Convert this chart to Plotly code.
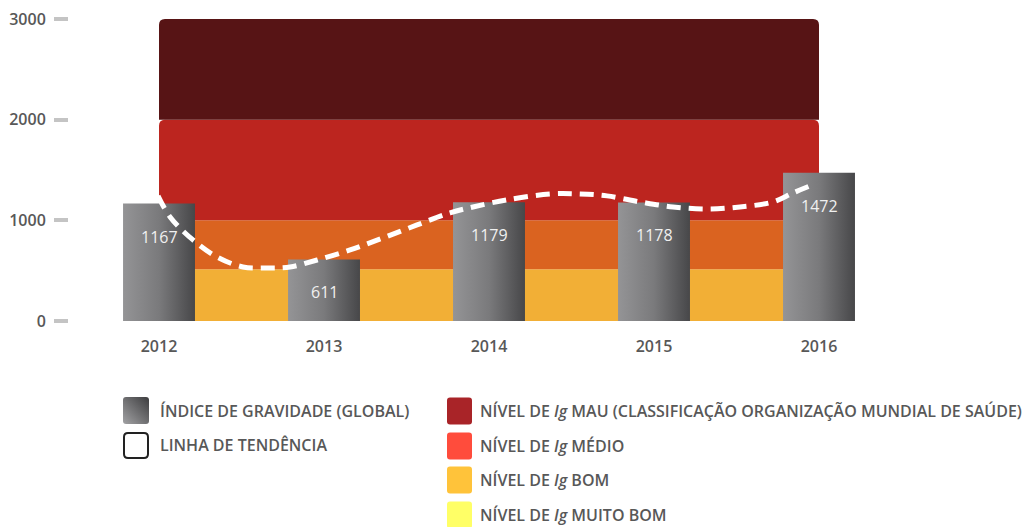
import base64
import plotly.graph_objects as go

# ---------------- data ----------------
years = [2012, 2013, 2014, 2015, 2016]
gravity_index = [1167, 611, 1179, 1178, 1472]

# trend line (year, value)
trend_x = [2011.994, 2012.067, 2012.206, 2012.352, 2012.509, 2012.655, 2012.794,
           2012.958, 2013.158, 2013.358, 2013.564, 2013.764, 2013.903, 2014.109,
           2014.370, 2014.552, 2014.715, 2014.915, 2015.115, 2015.321, 2015.521,
           2015.721, 2015.842, 2015.976]
trend_y = [1243, 1034, 805, 636, 537, 527, 537,
           606, 706, 825, 954, 1074, 1133, 1203,
           1262, 1262, 1243, 1183, 1133, 1113, 1133,
           1183, 1272, 1362]

# Ig level bands (lower bound, upper bound)
level_lower = [0, 515, 1000, 2000]
level_upper = [515, 1000, 2000, 3000]
level_colors = ["#F2AF36", "#DA6320", "#BC251F", "#571415"]
level_rounded = [False, False, True, True]

y_ticks = [0, 1000, 2000, 3000]

legend_left = ["ÍNDICE DE GRAVIDADE (GLOBAL)", "LINHA DE TENDÊNCIA"]
legend_right = ["NÍVEL DE <i>Ig</i> MAU (CLASSIFICAÇÃO ORGANIZAÇÃO MUNDIAL DE SAÚDE)",
                "NÍVEL DE <i>Ig</i> MÉDIO",
                "NÍVEL DE <i>Ig</i> BOM",
                "NÍVEL DE <i>Ig</i> MUITO BOM"]
legend_right_colors = ["#A92428", "#FF4C3C", "#FFC33A", "#FFFF66"]

# ---------------- styling ----------------
W, H = 1028, 527
ML, MR, MT, MB = 69, 128, 19, 206
X0, X1 = 2011.4545, 2016.4909
BAR_W = 0.436
FONT = "Open Sans"
TXT = "#585858"

fig = go.Figure()

# level bands
rx, ry = 0.036, 60
band_x0, band_x1 = years[0], years[-1]
for lo, hi, col, rnd in zip(level_lower, level_upper, level_colors, level_rounded):
    if rnd:
        path = (f"M {band_x0},{lo} L {band_x0},{hi-ry} Q {band_x0},{hi} {band_x0+rx},{hi} "
                f"L {band_x1-rx},{hi} Q {band_x1},{hi} {band_x1},{hi-ry} L {band_x1},{lo} Z")
        fig.add_shape(type="path", path=path, xref="x", yref="y", fillcolor=col,
                      line=dict(width=0), layer="below")
    else:
        fig.add_shape(type="rect", x0=band_x0, x1=band_x1, y0=lo, y1=hi, xref="x", yref="y",
                      fillcolor=col, line=dict(width=0), layer="below")

# bars with gradient
for yr, v in zip(years, gravity_index):
    fig.add_trace(go.Scatter(
        x=[yr - BAR_W / 2, yr - BAR_W / 2, yr + BAR_W / 2, yr + BAR_W / 2, yr - BAR_W / 2],
        y=[0, v, v, 0, 0], mode="lines", line=dict(width=0), fill="toself",
        fillgradient=dict(type="horizontal",
                          colorscale=[[0, "#949496"], [0.5, "#7a7a7c"], [1, "#474749"]]),
        hoverinfo="skip", showlegend=False))

# trend line
fig.add_trace(go.Scatter(x=trend_x, y=trend_y, mode="lines",
                         line=dict(color="white", width=5, dash="14px,8px", shape="spline"),
                         hoverinfo="skip", showlegend=False))

# value labels
for yr, v in zip(years, gravity_index):
    fig.add_annotation(x=yr, y=v, text=str(v), showarrow=False, yshift=-33,
                       font=dict(family=FONT, size=16, color="#f0f0f0"))

fig.update_xaxes(range=[X0, X1], tickvals=years, ticktext=[str(y) for y in years],
                 showgrid=False, zeroline=False, showline=False, ticks="",
                 ticklabelstandoff=14, automargin=False,
                 tickfont=dict(family=FONT, size=16, color=TXT, weight=600))
fig.update_yaxes(range=[0, 3000], tickvals=y_ticks, showgrid=False, zeroline=False,
                 showline=False, ticks="outside", ticklen=14, tickwidth=4,
                 tickcolor="#c4c4c4", ticklabelstandoff=5, automargin=False,
                 tickfont=dict(family=FONT, size=16, color=TXT, weight=600))

# ---------------- custom legend ----------------
pw, ph = W - ML - MR, H - MT - MB


def px(x):
    return (x - ML) / pw


def py(y):
    return (H - MB - y) / ph


grad_svg = ('<svg xmlns="http://www.w3.org/2000/svg" width="26" height="27">'
            '<defs><linearGradient id="g" x1="0" y1="1" x2="1" y2="0">'
            '<stop offset="0" stop-color="#a2a2a4"/><stop offset="1" stop-color="#3c3c3e"/>'
            '</linearGradient></defs><rect width="26" height="27" rx="3" fill="url(#g)"/></svg>')
fig.add_layout_image(source="data:image/svg+xml;base64," + base64.b64encode(grad_svg.encode()).decode(),
                     xref="paper", yref="paper", x=px(123), y=py(397), sizex=26 / pw, sizey=27 / ph,
                     xanchor="left", yanchor="top", sizing="stretch", layer="above")


def rounded_rect(x0, y0, x1, y1, r):
    X0p, X1p, Y0p, Y1p = px(x0), px(x1), py(y0), py(y1)
    rxp, ryp = r / pw, r / ph
    return (f"M {X0p+rxp},{Y0p} L {X1p-rxp},{Y0p} Q {X1p},{Y0p} {X1p},{Y0p-ryp} "
            f"L {X1p},{Y1p+ryp} Q {X1p},{Y1p} {X1p-rxp},{Y1p} L {X0p+rxp},{Y1p} "
            f"Q {X0p},{Y1p} {X0p},{Y1p+ryp} L {X0p},{Y0p-ryp} Q {X0p},{Y0p} {X0p+rxp},{Y0p} Z")


fig.add_shape(type="path", path=rounded_rect(124, 433, 148, 458, 4), xref="paper", yref="paper",
              line=dict(color="#222222", width=2), fillcolor="white")

left_y = [411, 445]
for t, yy in zip(legend_left, left_y):
    fig.add_annotation(x=px(158), y=py(yy), xref="paper", yref="paper", text=t,
                       showarrow=False, xanchor="left", yanchor="middle",
                       font=dict(family=FONT, size=16, color=TXT, weight=600))

right_y = [411, 446, 480, 515]
for t, c, yy in zip(legend_right, legend_right_colors, right_y):
    fig.add_shape(type="path", path=rounded_rect(447, yy - 13.5, 472, yy + 13.5, 3),
                  xref="paper", yref="paper", line=dict(width=0), fillcolor=c)
    fig.add_annotation(x=px(478), y=py(yy), xref="paper", yref="paper", text=t,
                       showarrow=False, xanchor="left", yanchor="middle",
                       font=dict(family=FONT, size=16, color=TXT, weight=600))

fig.update_layout(width=W, height=H, margin=dict(l=ML, r=MR, t=MT, b=MB, autoexpand=False),
                  plot_bgcolor="white", paper_bgcolor="white", showlegend=False,
                  font=dict(family=FONT))

fig.write_html("out.html", config={"displayModeBar": False},
               post_script="document.body.style.margin='0';document.body.style.overflow='hidden';")
